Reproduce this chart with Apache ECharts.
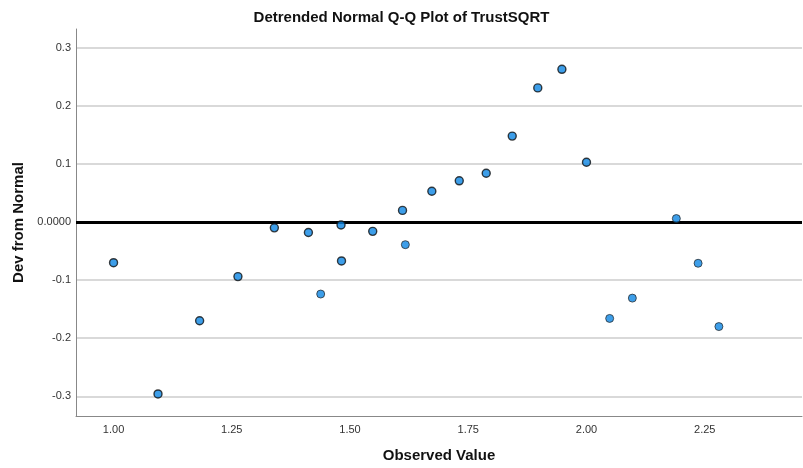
<!DOCTYPE html>
<html>
<head>
<meta charset="utf-8">
<title>Detrended Normal Q-Q Plot of TrustSQRT</title>
<script src="https://cdn.jsdelivr.net/npm/echarts@6/dist/echarts.min.js"></script>
<style>
  html, body { margin: 0; padding: 0; background: #fff; }
  #chart { width: 803px; height: 468px; }
</style>
</head>
<body>
<div id="chart"></div>
<script>
// Observed values with several cases stacked on the same spot
const tiedObserved  = [1.000, 1.094, 1.182, 1.263, 1.340, 1.412, 1.481, 1.482, 1.548, 1.611, 1.673, 1.731, 1.788, 1.843, 1.897, 1.948, 2.000];
const tiedDeviation = [-0.070, -0.296, -0.170, -0.094, -0.010, -0.018, -0.005, -0.067, -0.016, 0.020, 0.053, 0.071, 0.084, 0.148, 0.231, 0.263, 0.103];

// Observed values held by a single case
const singleObserved  = [1.438, 1.617, 2.049, 2.097, 2.190, 2.236, 2.280];
const singleDeviation = [-0.124, -0.039, -0.166, -0.131, 0.006, -0.071, -0.180];

// Axis ticks
const xTicks = [1.00, 1.25, 1.50, 1.75, 2.00, 2.25];
const yTicks = [-0.3, -0.2, -0.1, 0, 0.1, 0.2, 0.3];

const FONT = '"Liberation Sans", Arial, sans-serif';

function pairs(xs, ys) {
  return xs.map((x, i) => [x, ys[i]]);
}

const chart = echarts.init(document.getElementById('chart'), null, { renderer: 'canvas' });

const markerFill = '#0c86e4';

chart.setOption({
  animation: false,
  backgroundColor: '#ffffff',
  title: {
    text: 'Detrended Normal Q-Q Plot of TrustSQRT',
    left: 'center',
    top: 5,
    textStyle: { fontFamily: FONT, fontSize: 15, fontWeight: 'bold', color: '#111' }
  },
  grid: { left: 76, top: 29, right: 1, bottom: 51, containLabel: false },
  xAxis: {
    type: 'value',
    min: 0.9206,
    max: 2.4557,
    name: 'Observed Value',
    nameLocation: 'middle',
    nameGap: 32,
    nameTextStyle: { fontFamily: FONT, fontSize: 15, fontWeight: 'bold', color: '#111' },
    axisLine: { show: true, onZero: false, lineStyle: { color: '#888', width: 1 } },
    axisTick: { show: false, customValues: xTicks },
    axisLabel: {
      customValues: xTicks,
      margin: 8,
      fontFamily: FONT, fontSize: 11, color: '#333',
      formatter: v => v.toFixed(2)
    },
    splitLine: { show: false }
  },
  yAxis: {
    type: 'value',
    min: -0.334,
    max: 0.3324,
    name: 'Dev from Normal',
    nameLocation: 'middle',
    nameGap: 50,
    nameTextStyle: { fontFamily: FONT, fontSize: 15, fontWeight: 'bold', color: '#111' },
    axisLine: { show: true, lineStyle: { color: '#888', width: 1 } },
    axisTick: { show: false, customValues: yTicks },
    axisLabel: {
      customValues: yTicks,
      margin: 5,
      fontFamily: FONT, fontSize: 11, color: '#333',
      formatter: v => (Math.abs(v) < 1e-9 ? '0.0000' : v.toFixed(1))
    },
    splitLine: { show: true, lineStyle: { color: '#d9d9d9', width: 2 } }
  },
  series: [
    {
      name: 'tied',
      type: 'scatter',
      symbol: 'circle',
      symbolSize: 8,
      z: 3,
      itemStyle: { color: markerFill, borderColor: '#111', borderWidth: 1.4 },
      data: pairs(tiedObserved, tiedDeviation),
      markLine: {
        silent: true,
        symbol: 'none',
        z: 2,
        label: { show: false },
        lineStyle: { color: '#000', width: 3, type: 'solid' },
        data: [{ yAxis: 0 }]
      }
    },
    {
      name: 'single',
      type: 'scatter',
      symbol: 'circle',
      symbolSize: 8,
      z: 3,
      itemStyle: { color: markerFill, borderColor: '#222', borderWidth: 0.9 },
      data: pairs(singleObserved, singleDeviation)
    }
  ]
});
</script>
</body>
</html>
